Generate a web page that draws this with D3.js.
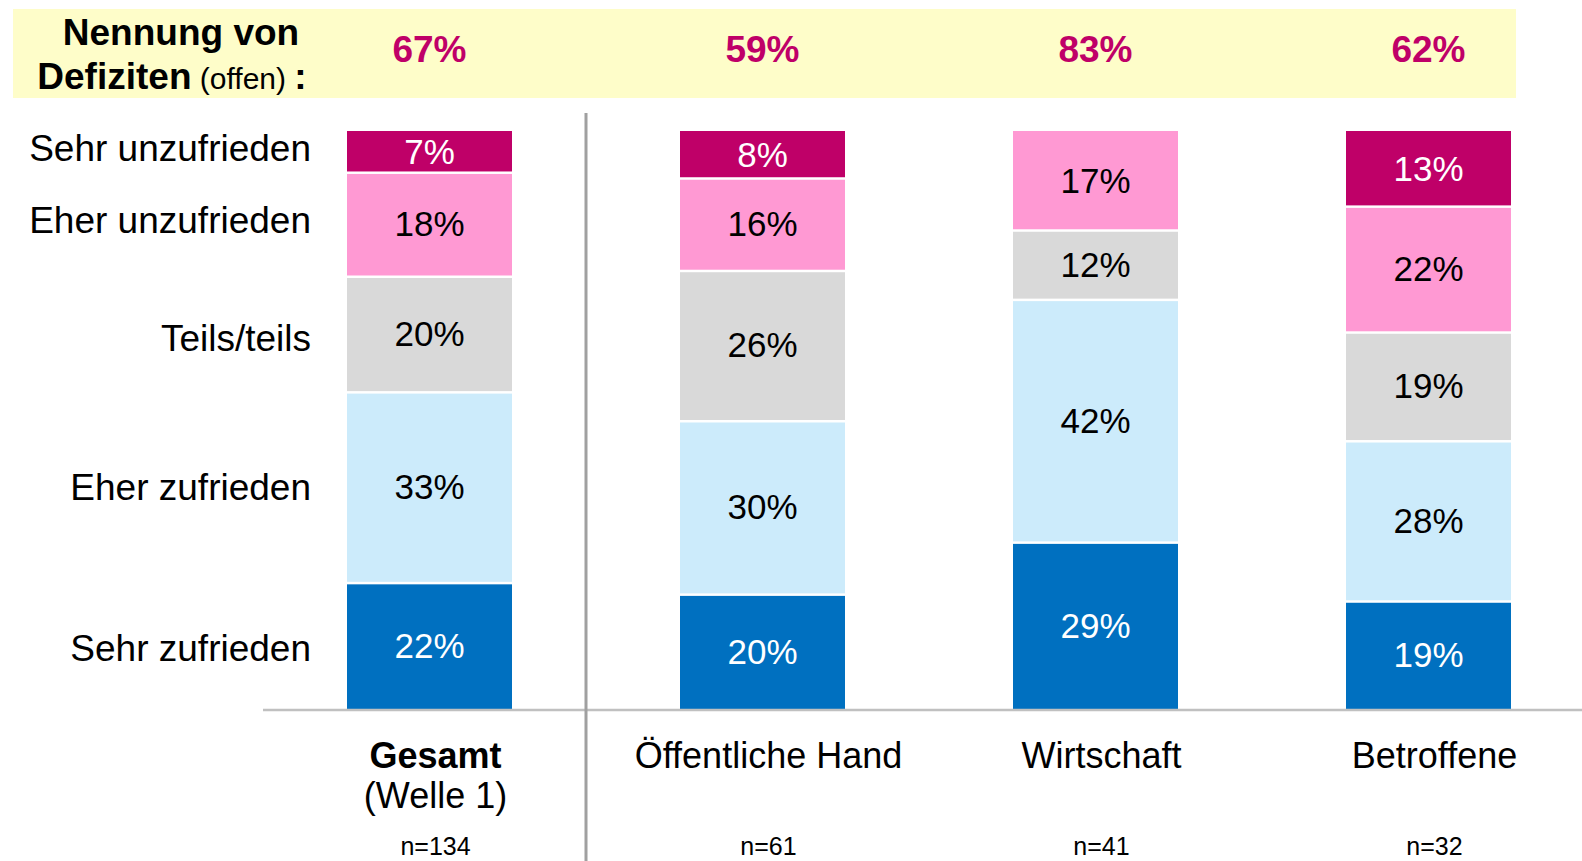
<!DOCTYPE html>
<html><head><meta charset="utf-8">
<script src="https://cdn.jsdelivr.net/npm/d3@7"></script>
<style>
html,body{margin:0;padding:0;background:#fff;}
svg{display:block;font-family:"Liberation Sans",Arial,sans-serif;}
</style></head>
<body>
<svg id="c" width="1582" height="861"></svg>
<script>
const categories = ["Gesamt", "Öffentliche Hand", "Wirtschaft", "Betroffene"];
const subLabels = ["(Welle 1)", "", "", ""];
const nLabels = ["n=134", "n=61", "n=41", "n=32"];
const defizite = ["67%", "59%", "83%", "62%"];
const series = ["Sehr zufrieden", "Eher zufrieden", "Teils/teils", "Eher unzufrieden", "Sehr unzufrieden"];
const sehrZufrieden   = [22, 20, 29, 19];
const eherZufrieden   = [33, 30, 42, 28];
const teilsTeils      = [20, 26, 12, 19];
const eherUnzufrieden = [18, 16, 17, 22];
const sehrUnzufrieden = [7, 8, 0, 13];
const colors = ["#0070C0", "#CCEBFB", "#D9D9D9", "#FF99D3", "#BF0068"];
const textColors = ["#fff", "#000", "#000", "#000", "#fff"];
const labelNudge = [3, 1, 5, -3, -3];

const seriesValues = [sehrZufrieden, eherZufrieden, teilsTeils, eherUnzufrieden, sehrUnzufrieden];
const rows = categories.map((c, i) => {
  const r = {cat: c};
  series.forEach((s, j) => r[s] = seriesValues[j][i]);
  return r;
});
const stacked = d3.stack().keys(series).offset(d3.stackOffsetExpand)(rows);

const svg = d3.select("#c");
const x = d3.scaleBand().domain(categories).range([347, 1511]).paddingInner(0.5045).paddingOuter(0);
const y = d3.scaleLinear().domain([0, 1]).range([709, 131]);

// header band
svg.append("rect").attr("x", 13).attr("y", 9).attr("width", 1503).attr("height", 89).attr("fill", "#FEFDC9");
svg.append("text").attr("x", 181).attr("y", 45).attr("text-anchor", "middle")
  .attr("font-size", 37).attr("font-weight", "bold").text("Nennung von");
const t2 = svg.append("text").attr("x", 172).attr("y", 89).attr("text-anchor", "middle");
t2.append("tspan").attr("font-size", 37).attr("font-weight", "bold").text("Defiziten");
t2.append("tspan").attr("font-size", 30).text(" (offen) ");
t2.append("tspan").attr("font-size", 37).attr("font-weight", "bold").text(":");

svg.append("g").selectAll("text").data(categories).join("text")
  .attr("x", d => x(d) + x.bandwidth() / 2).attr("y", 62)
  .attr("text-anchor", "middle").attr("font-size", 37).attr("font-weight", "bold")
  .attr("fill", "#BF0068").text((d, i) => defizite[i]);

// bars
const layers = svg.append("g").selectAll("g").data(stacked).join("g")
  .attr("fill", (d, i) => colors[i]);
layers.selectAll("rect").data(d => d.map(p => ({p, cat: p.data.cat}))).join("rect")
  .attr("x", d => x(d.cat)).attr("width", x.bandwidth())
  .attr("y", d => y(d.p[1]) + (d.p[1] > 0.999 ? 0 : 2.5))
  .attr("height", d => Math.max(0, y(d.p[0]) - y(d.p[1]) - (d.p[1] > 0.999 ? 0 : 2.5)))
  .attr("display", d => d.p[1] - d.p[0] > 0 ? null : "none");

const labels = svg.append("g").selectAll("g").data(stacked).join("g");
labels.each(function(layer, li) {
  d3.select(this).selectAll("text").data(layer.filter((p, i) => seriesValues[li][i] > 0).map(p => ({p, li})))
    .join("text")
    .attr("x", d => x(d.p.data.cat) + x.bandwidth() / 2)
    .attr("y", d => (y(d.p[0]) + y(d.p[1])) / 2)
    .attr("dy", "0.36em").attr("text-anchor", "middle").attr("font-size", 35)
    .attr("fill", textColors[li])
    .text(d => d.p.data[layer.key] + "%");
});

// left series labels aligned with first bar
const first = categories[0];
svg.append("g").selectAll("text").data(stacked).join("text")
  .attr("x", 311).attr("text-anchor", "end").attr("font-size", 37)
  .attr("y", (d, i) => { const p = d.find(q => q.data.cat === first); return (y(p[0]) + y(p[1])) / 2 - 1 + labelNudge[i]; })
  .attr("dy", "0.36em").text(d => d.key);

// baseline & divider
svg.append("line").attr("x1", 263).attr("x2", 1582).attr("y1", 710).attr("y2", 710)
  .attr("stroke", "#C0C0C0").attr("stroke-width", 2.5);
svg.append("line").attr("x1", 586).attr("x2", 586).attr("y1", 113).attr("y2", 861)
  .attr("stroke", "#A0A0A0").attr("stroke-width", 3);

// category labels
svg.append("g").selectAll("text").data(categories).join("text")
  .attr("x", d => x(d) + x.bandwidth() / 2 + 6).attr("y", 768)
  .attr("text-anchor", "middle").attr("font-size", 36)
  .attr("font-weight", (d, i) => i === 0 ? "bold" : null).text(d => d);
svg.append("g").selectAll("text").data(categories).join("text")
  .attr("x", d => x(d) + x.bandwidth() / 2 + 6).attr("y", 808)
  .attr("text-anchor", "middle").attr("font-size", 36).text((d, i) => subLabels[i]);
svg.append("g").selectAll("text").data(categories).join("text")
  .attr("x", d => x(d) + x.bandwidth() / 2 + 6).attr("y", 855)
  .attr("text-anchor", "middle").attr("font-size", 25).text((d, i) => nLabels[i]);
</script>
</body></html>
